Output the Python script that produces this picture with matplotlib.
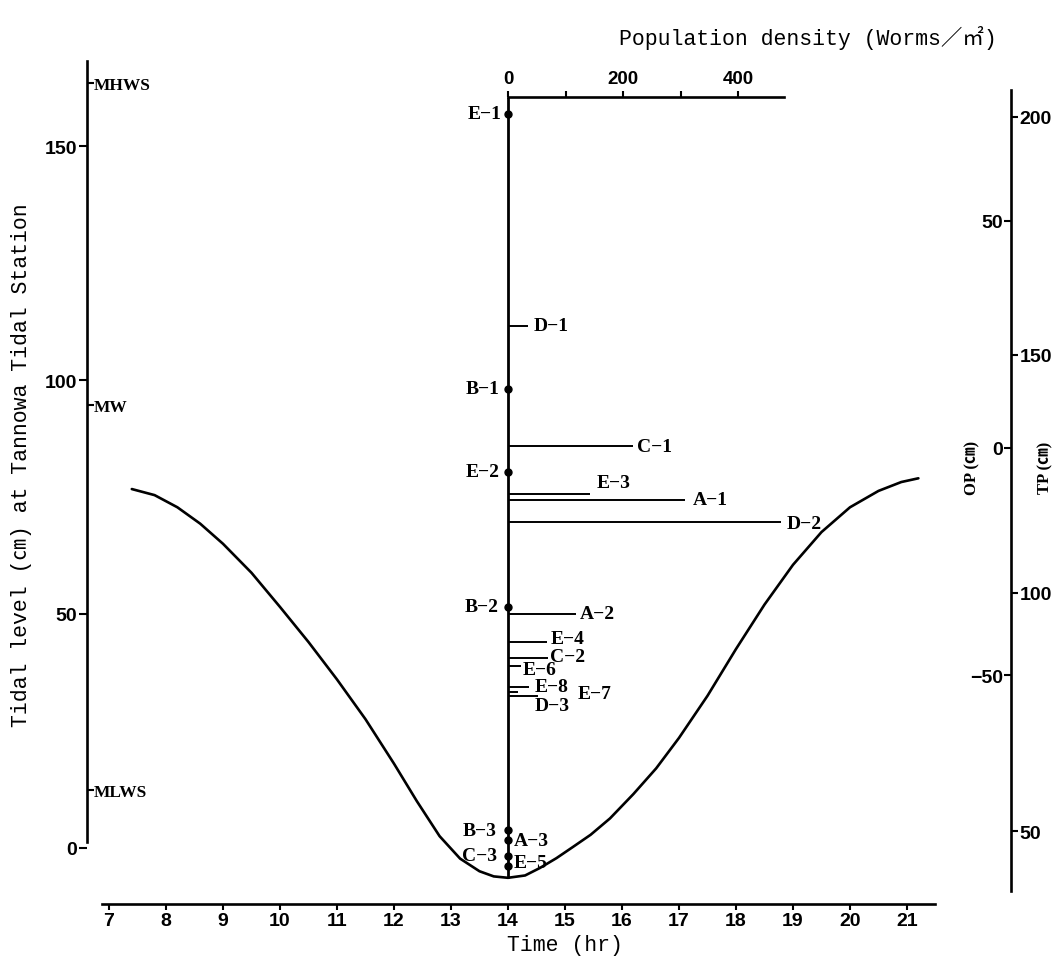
import matplotlib
matplotlib.use("Agg")
import matplotlib.pyplot as plt

# ---------------- data ----------------
hours = [7.4, 7.8, 8.2, 8.6, 9.0, 9.5, 10.0, 10.5, 11.0, 11.5, 12.0, 12.4, 12.8, 13.16, 13.5, 13.75,
         14.0, 14.3, 14.56, 14.85, 15.14, 15.45, 15.79, 16.2, 16.6, 17.0, 17.5, 18.0, 18.5, 19.0,
         19.5, 20.0, 20.5, 20.9, 21.2]
tide_cm = [76.7, 75.4, 72.8, 69.3, 65.0, 58.8, 51.5, 44.0, 36.0, 27.5, 18.0, 10.0, 2.5, -2.3, -5.0, -6.1,
           -6.4, -5.9, -4.3, -2.2, 0.2, 2.8, 6.3, 11.5, 17.0, 23.5, 32.5, 42.5, 52.0, 60.5,
           67.5, 72.8, 76.3, 78.2, 79.0]

samples = ['E-1', 'D-1', 'B-1', 'C-1', 'E-2', 'E-3', 'A-1', 'D-2', 'B-2', 'A-2',
           'E-4', 'C-2', 'E-6', 'E-8', 'E-7', 'D-3', 'B-3', 'A-3', 'C-3', 'E-5']
sample_level = [156.9, 111.6, 98.1, 85.9, 80.4, 75.7, 74.4, 69.7, 51.5, 50.0,
                44.0, 40.6, 38.9, 34.4, 33.3, 32.5, 3.8, 1.7, -1.7, -3.8]
density = [0, 35, 0, 217, 0, 143, 308, 475, 0, 118,
           68, 70, 23, 37, 17, 52, 0, 0, 0, 0]

time_ticks = list(range(7, 22))
tide_ticks = [0, 50, 100, 150]
datum_names = ['MHWS', 'MW', 'MLWS']
datum_levels = [163.5, 94.6, 12.3]
op_ticks = [50, 0, -50]
tp_ticks = [200, 150, 100, 50]
density_ticks = [0, 100, 200, 300, 400]
density_ticklabels = ['0', '', '200', '', '400']

# ---------------- layout / style ----------------
W, H = 1064, 962
fig = plt.figure(figsize=(W / 100, H / 100), dpi=100)


def fx(px):
    return px / W


def fy(py):
    return 1 - py / H


T_LEFT, T_RIGHT = 6.614, 22.825
LVL_BOT, LVL_TOP = -12.0, 168.2
SAMPLE_TIME = 14.0
WORMS_PER_HOUR = 99.1
DENSITY_AXIS_LEVEL = 160.5
DENSITY_AXIS_MAX = 480
OP_ZERO, OP_SCALE = 85.5, 1.029
TP_SCALE, TP_OFFSET = 0.982, 46.5

# label offsets in pixels (layout only)
label_offsets = {
    'E-1': (-6, 0, 'right'), 'D-1': (6, 0, 'left'), 'B-1': (-8, 0, 'right'),
    'C-1': (4, 0, 'left'), 'E-2': (-8, 0, 'right'), 'E-3': (6, 11, 'left'),
    'A-1': (8, 0, 'left'), 'D-2': (5, -2, 'left'), 'B-2': (-9, 0, 'right'),
    'A-2': (4, 0, 'left'), 'E-4': (4, 4, 'left'), 'C-2': (2, 1, 'left'),
    'E-6': (1, -4, 'left'), 'E-8': (5, 0, 'left'), 'E-7': (60, -1, 'left'),
    'D-3': (-3, -10, 'left'), 'B-3': (-11, 0, 'right'), 'A-3': (6, -1, 'left'),
    'C-3': (-11, 0, 'right'), 'E-5': (6, 3, 'left'),
}

NUM_FAMILY = ['Liberation Sans Narrow', 'Liberation Sans', 'DejaVu Sans']
NUM = dict(fontweight='bold', fontfamily=NUM_FAMILY, fontsize=14)
MONO = ['Liberation Mono', 'Noto Sans CJK JP', 'DejaVu Sans']
SERIF_B = dict(fontweight='bold', fontfamily=['Liberation Serif', 'DejaVu Serif'])

LW_AXIS = 1.9

ax = fig.add_axes([fx(87), fy(905), fx(1011) - fx(87), fy(62) - fy(905)])
ax.set_xlim(T_LEFT, T_RIGHT)
ax.set_ylim(LVL_BOT, LVL_TOP)
ax.patch.set_visible(False)

# twins
axop = ax.twinx()
axtp = ax.twinx()
axm = ax.twinx()
axd = ax.twiny()

# main axes
for s in ['top', 'right']:
    ax.spines[s].set_visible(False)
ax.spines['left'].set_bounds(1.3, LVL_TOP)
ax.spines['bottom'].set_bounds(6.88, 21.49)
for s in ['left', 'bottom']:
    ax.spines[s].set_linewidth(LW_AXIS)
ax.set_xticks(time_ticks, labels=[str(t) for t in time_ticks], **NUM)
ax.set_yticks(tide_ticks, labels=[str(t) for t in tide_ticks], **NUM)
ax.tick_params(axis='x', direction='out', length=4, width=1.5, pad=2, top=False)
ax.tick_params(axis='y', direction='out', length=6, width=1.5, pad=1, left=True, right=False,
               labelleft=True, labelright=False)

ax.plot(hours, tide_cm, color='black', lw=1.9, solid_capstyle='round', solid_joinstyle='round')

# right vertical axis line (shared by OP and TP)
axop.set_ylim((LVL_BOT - OP_ZERO) * OP_SCALE, (LVL_TOP - OP_ZERO) * OP_SCALE)
for s in axop.spines.values():
    s.set_visible(False)
axop.spines['left'].set_position(('axes', 1.0))
axop.spines['left'].set_visible(True)
axop.spines['left'].set_linewidth(LW_AXIS)
axop.spines['left'].set_bounds((-9.2 - OP_ZERO) * OP_SCALE, (162 - OP_ZERO) * OP_SCALE)
axop.yaxis.tick_left()
axop.set_yticks(op_ticks, labels=[str(t).replace('-', '\u2212') for t in op_ticks], **NUM)
axop.tick_params(axis='y', direction='out', length=5, width=1.5, pad=1)

axtp.set_ylim(LVL_BOT * TP_SCALE + TP_OFFSET, LVL_TOP * TP_SCALE + TP_OFFSET)
for s in axtp.spines.values():
    s.set_visible(False)
axtp.set_yticks(tp_ticks, labels=[str(t) for t in tp_ticks], **NUM)
axtp.tick_params(axis='y', direction='out', length=5, width=1.5, pad=1)

# datum marks on the left axis
axm.set_ylim(LVL_BOT, LVL_TOP)
for s in axm.spines.values():
    s.set_visible(False)
axm.spines['right'].set_position(('axes', 0.0))
axm.set_yticks(datum_levels, labels=datum_names, fontsize=12.5, **SERIF_B)
axm.tick_params(axis='y', direction='out', length=5, width=1.5, pad=0)

# population density axis
axd.set_xlim((T_LEFT - SAMPLE_TIME) * WORMS_PER_HOUR, (T_RIGHT - SAMPLE_TIME) * WORMS_PER_HOUR)
for s in axd.spines.values():
    s.set_visible(False)
axd.spines['top'].set_visible(True)
axd.spines['top'].set_position(('data', DENSITY_AXIS_LEVEL))
axd.spines['top'].set_bounds(0, DENSITY_AXIS_MAX)
axd.spines['top'].set_linewidth(LW_AXIS)
axd.set_xticks(density_ticks, labels=density_ticklabels, fontweight='bold',
               fontfamily=NUM_FAMILY, fontsize=13.5)
axd.tick_params(axis='x', direction='out', length=4, width=1.5, pad=3)

axd.vlines(0, min(tide_cm), DENSITY_AXIS_LEVEL, color='black', lw=2.0)
for name, lvl, d in zip(samples, sample_level, density):
    if d > 0:
        axd.hlines(lvl, 0, d, color='black', lw=1.4)
    else:
        axd.plot([0], [lvl], 'o', color='black', ms=5)
    dx, dy, ha = label_offsets[name]
    axd.annotate(name.replace('-', '\u2212'), (d, lvl), xytext=(dx, dy), textcoords='offset pixels',
                 ha=ha, va='center', fontsize=14, **SERIF_B)

# texts
fig.text(fx(808), fy(38), 'Population density (Worms\uff0f\u33a1)', ha='center', va='center',
         fontsize=15.5, family=MONO)
fig.text(fx(22), fy(465), 'Tidal level (\u339d) at Tannowa Tidal Station', rotation=90,
         ha='center', va='center', fontsize=15.5, family=MONO)
fig.text(fx(565), fy(946), 'Time (hr)', ha='center', va='center', fontsize=15.5, family=MONO)
fig.text(fx(972), fy(468), 'OP (\u339d)', rotation=90, ha='center', va='center', fontsize=12,
         fontweight='bold', family=['Liberation Serif', 'Noto Sans CJK JP'])
fig.text(fx(1045), fy(468), 'TP (\u339d)', rotation=90, ha='center', va='center', fontsize=12,
         fontweight='bold', family=['Liberation Serif', 'Noto Sans CJK JP'])

fig.savefig('out.png', dpi=100)
